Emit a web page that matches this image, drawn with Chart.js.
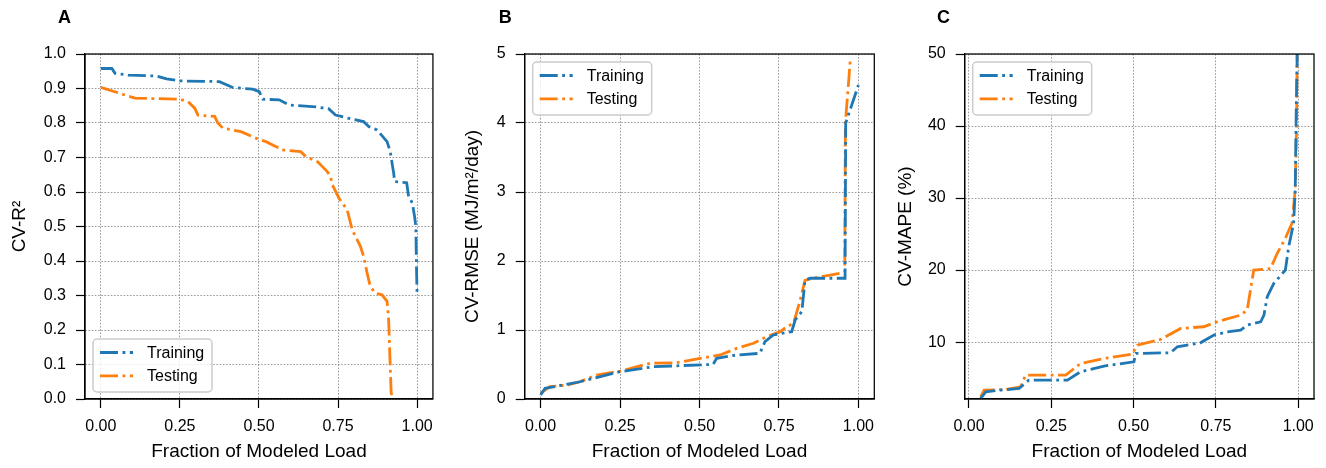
<!DOCTYPE html>
<html><head><meta charset="utf-8">
<script src="https://cdn.jsdelivr.net/npm/chart.js@4.4.0/dist/chart.umd.min.js"></script>
<style>
html,body{margin:0;padding:0;background:#fff;}
#wrap{position:relative;width:1326px;height:468px;overflow:hidden;background:#fff}
canvas{position:absolute;top:0}
</style></head><body>
<div id="wrap">
<canvas id="cA" width="442" height="468" style="left:0px"></canvas>
<canvas id="cB" width="442" height="468" style="left:442px"></canvas>
<canvas id="cC" width="442" height="468" style="left:884px"></canvas>
</div>
<script>
// ---------- data ----------
const seriesNames = ['Training', 'Testing'];
const xTicks = [0, 0.25, 0.5, 0.75, 1.0];
const yTicksA = [0, 0.1, 0.2, 0.3, 0.4, 0.5, 0.6, 0.7, 0.8, 0.9, 1.0];
const yTicksB = [0, 1, 2, 3, 4, 5];
const yTicksC = [10, 20, 30, 40, 50];

const aTrainX = [0, 0.035, 0.045, 0.087, 0.176, 0.208, 0.25, 0.375, 0.417, 0.48, 0.501, 0.512, 0.564, 0.595, 0.679, 0.721, 0.742, 0.795, 0.831, 0.847, 0.873, 0.905, 0.915, 0.926, 0.929, 0.967, 0.973, 0.985, 0.992, 0.996, 0.998, 1.0];
const aTrainY = [0.958, 0.958, 0.944, 0.939, 0.936, 0.928, 0.922, 0.92, 0.903, 0.898, 0.891, 0.869, 0.867, 0.852, 0.847, 0.841, 0.823, 0.811, 0.804, 0.79, 0.78, 0.746, 0.717, 0.654, 0.63, 0.627, 0.587, 0.568, 0.529, 0.5, 0.384, 0.299];
const aTestX = [0, 0.108, 0.25, 0.276, 0.297, 0.307, 0.36, 0.37, 0.386, 0.443, 0.49, 0.522, 0.553, 0.574, 0.632, 0.648, 0.685, 0.716, 0.726, 0.732, 0.753, 0.779, 0.795, 0.821, 0.831, 0.842, 0.852, 0.868, 0.889, 0.905, 0.91, 0.915, 0.918, 0.923];
const aTestY = [0.9035, 0.872, 0.869, 0.862, 0.843, 0.823, 0.819, 0.8, 0.785, 0.775, 0.756, 0.746, 0.732, 0.722, 0.717, 0.703, 0.688, 0.659, 0.645, 0.621, 0.582, 0.548, 0.49, 0.442, 0.413, 0.365, 0.326, 0.307, 0.302, 0.283, 0.23, 0.095, 0.017, 0];

const bTrainX = [0, 0.014, 0.071, 0.124, 0.166, 0.25, 0.355, 0.543, 0.554, 0.617, 0.69, 0.706, 0.732, 0.79, 0.801, 0.822, 0.832, 0.848, 0.958, 0.96, 1.0];
const bTrainY = [0.058, 0.155, 0.203, 0.25, 0.3, 0.396, 0.468, 0.502, 0.59, 0.638, 0.662, 0.83, 0.928, 0.976, 1.145, 1.266, 1.72, 1.75, 1.75, 4.0, 4.55];
const bTestX = [0, 0.029, 0.081, 0.124, 0.176, 0.25, 0.344, 0.428, 0.502, 0.565, 0.617, 0.67, 0.712, 0.754, 0.775, 0.796, 0.817, 0.832, 0.858, 0.952, 0.957, 0.959, 0.975];
const bTestY = [0.08, 0.18, 0.2, 0.25, 0.348, 0.403, 0.517, 0.526, 0.59, 0.638, 0.734, 0.807, 0.903, 0.976, 1.048, 1.097, 1.435, 1.72, 1.75, 1.83, 1.84, 4.0, 4.94];

const cTrainX = [0.0355, 0.051, 0.096, 0.152, 0.182, 0.299, 0.339, 0.41, 0.501, 0.507, 0.612, 0.633, 0.703, 0.744, 0.784, 0.825, 0.845, 0.886, 0.896, 0.906, 0.926, 0.961, 0.971, 0.986, 0.991, 0.994, 0.997];
const cTrainY = [2.18, 3.1, 3.33, 3.56, 4.72, 4.72, 5.88, 6.67, 7.27, 8.43, 8.52, 9.35, 9.9, 10.97, 11.43, 11.67, 12.36, 12.82, 13.75, 16.3, 18.15, 20.0, 23.2, 26.5, 31.1, 42, 50];
const cTestX = [0.0355, 0.046, 0.107, 0.157, 0.172, 0.294, 0.339, 0.41, 0.496, 0.511, 0.582, 0.643, 0.713, 0.754, 0.825, 0.845, 0.865, 0.916, 0.936, 0.961, 0.981, 0.991, 0.995, 0.997];
const cTestY = [2.4, 3.33, 3.4, 3.8, 5.42, 5.42, 7.04, 7.73, 8.33, 9.58, 10.37, 11.9, 12.13, 12.82, 13.75, 14.44, 20, 20.2, 22.3, 24.4, 26.5, 31.1, 40, 52];

// ---------- styling ----------
const FONT = '"Liberation Sans", Arial, Helvetica, sans-serif';
const COLORS = ['#1f77b4', '#ff7f0e'];
const LW = 2.8;
const DASH = [18, 4.5, 2.8, 4.5];

function pts(xs, ys) { return xs.map((x, i) => ({x: x, y: ys[i]})); }

const decoPlugin = {
  id: 'deco',
  afterDatasetsDraw(chart, args, o) {
    const ctx = chart.ctx, ca = chart.chartArea;
    ctx.save();
    // frame
    ctx.strokeStyle = '#000'; ctx.lineWidth = 1.25; ctx.setLineDash([]);
    ctx.strokeRect(ca.left, ca.top, ca.right - ca.left, ca.bottom - ca.top);
    // legend
    const bw = 119, bh = 53;
    const bx = ca.left + 8;
    const by = o.legend === 'lower' ? ca.bottom - 7 - bh : ca.top + 8;
    ctx.beginPath();
    ctx.roundRect(bx, by, bw, bh, 4);
    ctx.fillStyle = 'rgba(255,255,255,0.8)';
    ctx.fill();
    ctx.strokeStyle = '#cccccc'; ctx.lineWidth = 1.5;
    ctx.stroke();
    chart.data.datasets.forEach((ds, i) => {
      const yy = by + 13.5 + i * 23.3;
      ctx.beginPath();
      ctx.strokeStyle = ds.borderColor; ctx.lineWidth = LW; ctx.lineCap = 'butt';
      ctx.setLineDash(DASH);
      ctx.moveTo(bx + 7, yy); ctx.lineTo(bx + 40, yy);
      ctx.stroke();
      ctx.setLineDash([]);
      ctx.fillStyle = '#000';
      ctx.font = '16px ' + FONT;
      ctx.textBaseline = 'middle'; ctx.textAlign = 'left';
      ctx.fillText(ds.label, bx + 54, yy + 1);
    });
    // panel letter
    ctx.font = 'bold 18px ' + FONT;
    ctx.fillStyle = '#000';
    ctx.textBaseline = 'alphabetic'; ctx.textAlign = 'left';
    ctx.fillText(o.letter, o.letterX, 23);
    ctx.restore();
  }
};

function makePanel(id, p) {
  const W = 442, H = 468;
  const datasets = [
    {label: seriesNames[0], data: pts(p.trX, p.trY)},
    {label: seriesNames[1], data: pts(p.teX, p.teY)}
  ].map((d, i) => Object.assign(d, {
    borderColor: COLORS[i], backgroundColor: COLORS[i], borderWidth: LW,
    borderDash: DASH, borderCapStyle: 'butt', pointRadius: 0, fill: false,
    tension: 0, borderJoinStyle: 'miter'
  }));
  return new Chart(document.getElementById(id), {
    type: 'line',
    data: {datasets: datasets},
    plugins: [decoPlugin],
    options: {
      responsive: false, animation: false, devicePixelRatio: 1,
      layout: {padding: {left: 0, top: 54, right: W - p.right, bottom: 0}},
      plugins: {
        legend: {display: false}, tooltip: {enabled: false},
        deco: {letter: p.letter, letterX: p.letterX, legend: p.legend}
      },
      scales: {
        x: {
          type: 'linear', min: p.xmin, max: p.xmax,
          afterBuildTicks: s => { s.ticks = xTicks.map(v => ({value: v})); },
          afterFit: s => { s.height = H - 399; },
          ticks: {autoSkip: false, maxRotation: 0, color: '#000', padding: 9,
                  font: {family: FONT, size: 16}, callback: v => Number(v).toFixed(2)},
          grid: {color: '#808080', lineWidth: 0.8, tickColor: '#000', tickWidth: 1.2,
                 tickLength: 9, tickBorderDash: []},
          border: {display: true, color: '#000', width: 1.25, dash: [1.6, 1.6]},
          title: {display: true, text: 'Fraction of Modeled Load', color: '#000',
                  font: {family: FONT, size: 19}, padding: {top: 0, bottom: 5}}
        },
        y: {
          type: 'linear', min: p.ymin, max: p.ymax,
          afterBuildTicks: s => { s.ticks = p.yTicks.map(v => ({value: v})); },
          afterFit: s => { s.width = p.left; },
          ticks: {autoSkip: false, color: '#000', padding: 10,
                  font: {family: FONT, size: 16}, callback: p.yFmt},
          grid: {color: '#808080', lineWidth: 0.8, tickColor: '#000', tickWidth: 1.2,
                 tickLength: 9, tickBorderDash: []},
          border: {display: true, color: '#000', width: 1.25, dash: [1.6, 1.6]},
          title: {display: true, text: p.yTitle, color: '#000',
                  font: {family: FONT, size: 19}, padding: {top: p.yTitlePad, bottom: 0}}
        }
      }
    }
  });
}

makePanel('cA', {trX: aTrainX, trY: aTrainY, teX: aTestX, teY: aTestY,
  left: 85, right: 435, xmin: -0.05, xmax: 1.05, ymin: 0, ymax: 1, yTicks: yTicksA,
  yFmt: v => Number(v).toFixed(1), yTitle: 'CV-R²', yTitlePad: 8.6,
  letter: 'A', letterX: 58, legend: 'lower'});
makePanel('cB', {trX: bTrainX, trY: bTrainY, teX: bTestX, teY: bTestY,
  left: 82.7, right: 432.3, xmin: -0.05, xmax: 1.05, ymin: 0, ymax: 5, yTicks: yTicksB,
  yFmt: v => String(Math.round(v)), yTitle: 'CV-RMSE (MJ/m²/day)', yTitlePad: 19.3,
  letter: 'B', letterX: 56.7, legend: 'upper'});
makePanel('cC', {trX: cTrainX, trY: cTrainY, teX: cTestX, teY: cTestY,
  left: 80.7, right: 430, xmin: -0.013, xmax: 1.048, ymin: 2.1, ymax: 50, yTicks: yTicksC,
  yFmt: v => String(Math.round(v)), yTitle: 'CV-MAPE (%)', yTitlePad: 10.3,
  letter: 'C', letterX: 53, legend: 'upper'});
</script>
</body></html>
